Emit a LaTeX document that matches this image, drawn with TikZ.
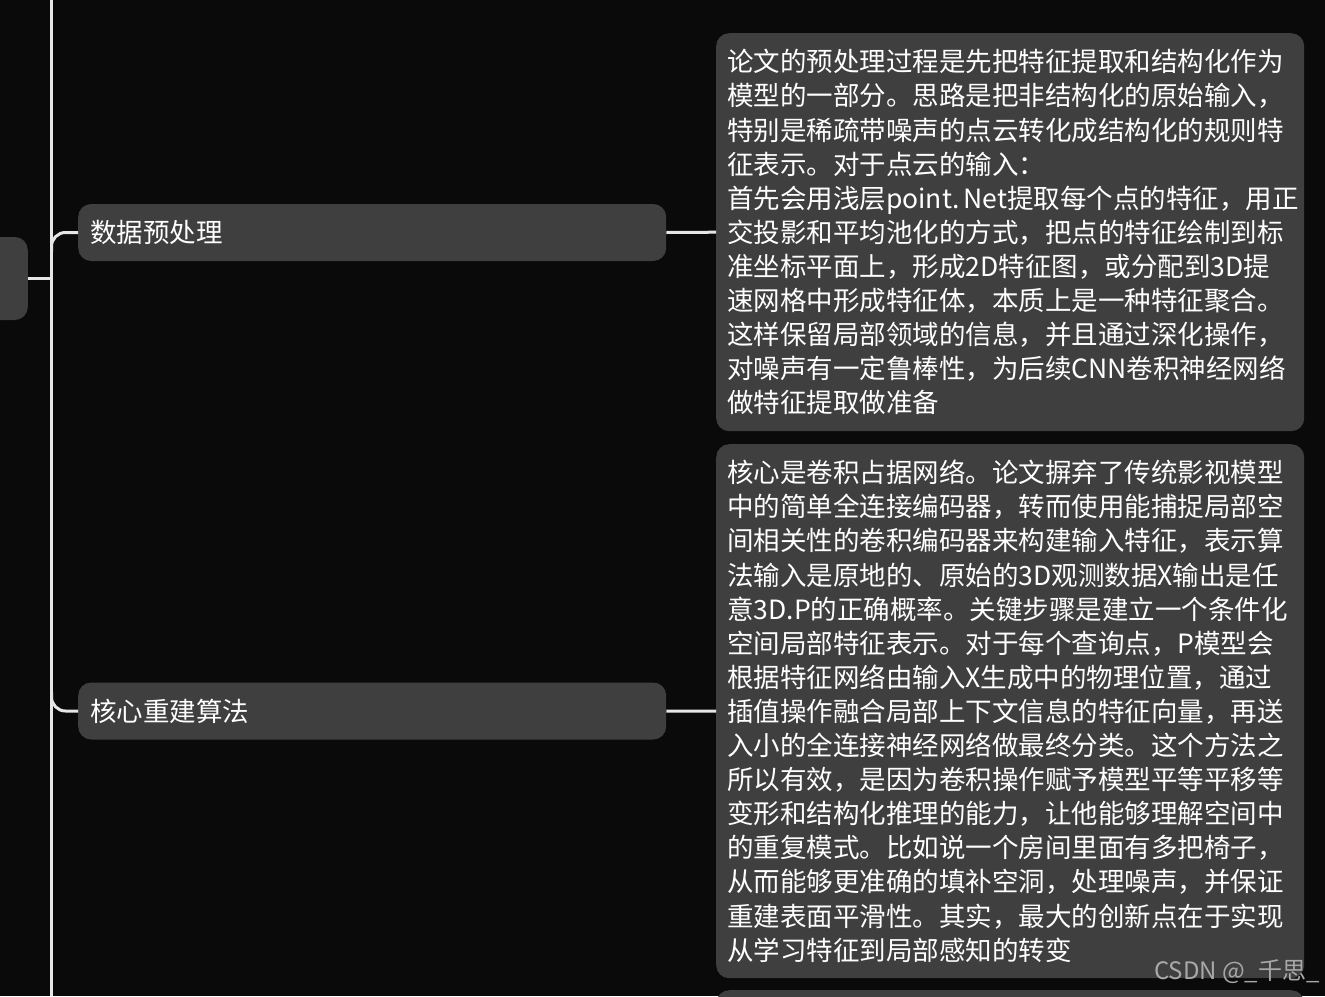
\documentclass[tikz,border=0pt]{standalone}
\usepackage{fontspec}
\newfontfamily\cjk{Noto Sans CJK SC}
\definecolor{bg}{HTML}{0A0A0A}
\definecolor{boxgray}{HTML}{3F3F3F}
\definecolor{linegray}{HTML}{E6E6E6}
\definecolor{wmgray}{HTML}{A8A8A8}
\begin{document}
\begin{tikzpicture}[x=1pt,y=-1pt,
  box/.style={fill=boxgray, rounded corners=13pt, draw=none, text=white,
    font=\cjk\fontsize{26.5}{34.1}\selectfont, align=left, inner ysep=0pt},
  topicbox/.style={box, text width=564pt, inner xsep=12pt, minimum height=57pt},
  detailbox/.style={box, text width=566pt, inner xsep=11pt},
  conn/.style={draw=linegray, line width=3pt},
  wm/.style={text=wmgray, font=\cjk\fontsize{24}{26}\selectfont, inner sep=0pt}]
\useasboundingbox (0,0) rectangle (1325,996);
\fill[bg] (0,0) rectangle (1325,996);
\clip (0,0) rectangle (1325,996);

% nodes
\node[box, minimum width=80pt, minimum height=83pt, anchor=east] (root) at (28,278.5) {};
\node[topicbox, anchor=west] (n1) at (78,232.5) {数据预处理};
\node[topicbox, anchor=west] (n2) at (78,711) {核心重建算法};
\node[detailbox, minimum height=398pt, anchor=north west] (d1) at (716,33) {论文的预处理过程是先把特征提取和结构化作为\\
模型的一部分。思路是把非结构化的原始输入，\\
特别是稀疏带噪声的点云转化成结构化的规则特\\
征表示。对于点云的输入：\\
\mbox{首先会用浅层point.\kern0.15em Net提取每个点的特征，用正}\\
交投影和平均池化的方式，把点的特征绘制到标\\
准坐标平面上，形成2D特征图，或分配到3D提\\
速网格中形成特征体，本质上是一种特征聚合。\\
这样保留局部领域的信息，并且通过深化操作，\\
对噪声有一定鲁棒性，为后续CNN卷积神经网络\\
做特征提取做准备};
\node[detailbox, minimum height=534pt, anchor=north west] (d2) at (716,444) {核心是卷积占据网络。论文摒弃了传统影视模型\\
中的简单全连接编码器，转而使用能捕捉局部空\\
间相关性的卷积编码器来构建输入特征，表示算\\
法输入是原地的、原始的3D观测数据X输出是任\\
意3D.P的正确概率。关键步骤是建立一个条件化\\
空间局部特征表示。对于每个查询点，P模型会\\
根据特征网络由输入X生成中的物理位置，通过\\
插值操作融合局部上下文信息的特征向量，再送\\
入小的全连接神经网络做最终分类。这个方法之\\
所以有效，是因为卷积操作赋予模型平等平移等\\
变形和结构化推理的能力，让他能够理解空间中\\
的重复模式。比如说一个房间里面有多把椅子，\\
从而能够更准确的填补空洞，处理噪声，并保证\\
重建表面平滑性。其实，最大的创新点在于实现\\
从学习特征到局部感知的转变};
\node[detailbox, minimum height=100pt, anchor=north west] (d3) at (716,990) {};

% connectors
\coordinate (trunkTop) at (51.5,0);
\coordinate (trunkBot) at (51.5,996);
\coordinate (b1) at (51.5,252);
\coordinate (b2) at (51.5,692);
\draw[conn] (trunkTop) -- (trunkBot);
\draw[conn] (root.east) -- (root.east -| trunkTop);
\draw[conn, rounded corners=14pt] (b1) |- (n1.west);
\draw[conn, rounded corners=14pt] (b2) |- (n2.west);
\draw[conn] (n1.east) -- (d1.west);
\draw[conn] (n2.east) -- (d2.west);

% watermark
\node[wm, anchor=east] (wmark) at (1320,972) {CSDN @\_千思\_};
\end{tikzpicture}
\end{document}
